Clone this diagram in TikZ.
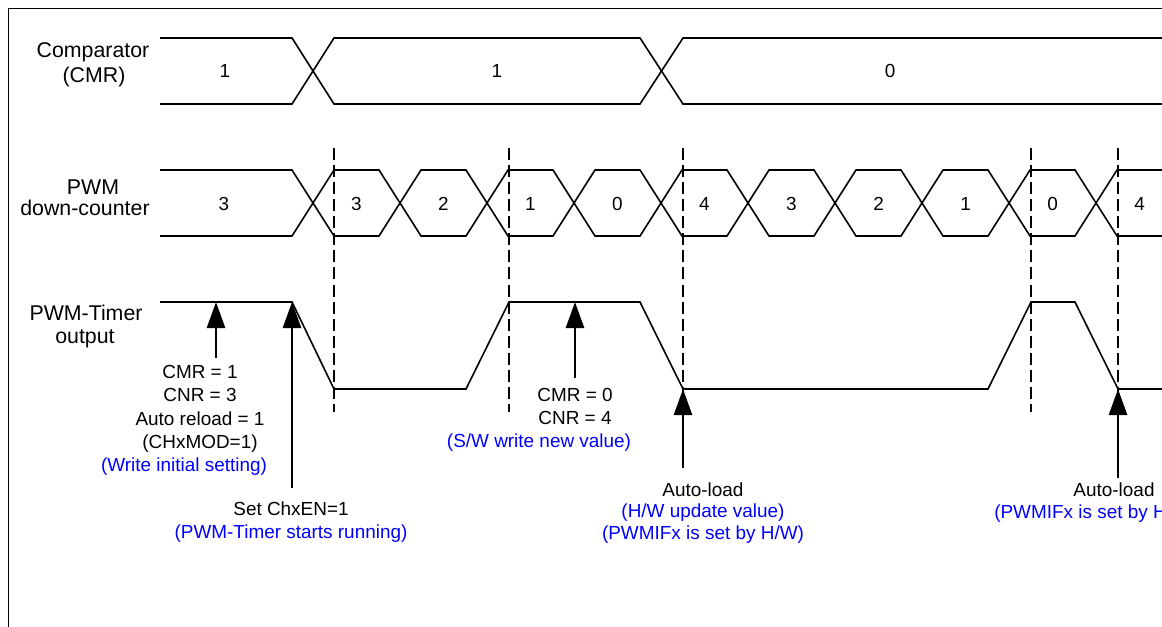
\documentclass[tikz,border=0pt]{standalone}
\usepackage{fontspec}
\setmainfont{Liberation Sans}
\usetikzlibrary{arrows.meta}
\definecolor{annblue}{RGB}{0,0,255}
\begin{document}
\begin{tikzpicture}[x=0.75pt,y=-0.75pt,
  sig/.style={line width=1.2pt, line join=miter},
  dashline/.style={line width=2pt, dash pattern=on 9pt off 3.8pt},
  ptr/.style={line width=2pt, -{Triangle[width=13.5pt,length=19.5pt]}},
  lab/.style={font=\fontsize{16}{19}\selectfont, inner sep=0pt, anchor=base},
  ann/.style={font=\fontsize{14.2}{17}\selectfont, inner sep=0pt, anchor=base},
  blu/.style={ann, text=annblue},
  val/.style={font=\fontsize{14.2}{17}\selectfont, inner sep=0pt, anchor=base}]
\useasboundingbox (0,0) rectangle (1162,627);
\clip (0,0) rectangle (1162,627);
% frame
\draw[line width=0.75pt] (8,640) -- (8,9) -- (1175,9);
% row labels
\node[lab] (l1a) at (93,58) {Comparator};
\node[lab] (l1b) at (94,83) {(CMR)};
\node[lab] (l2a) at (93,195) {PWM};
\node[lab] (l2b) at (85,216) {down-counter};
\node[lab] (l3a) at (86,320) {PWM-Timer};
\node[lab] (l3b) at (85,343) {output};
% comparator bus
\draw[sig] (160,38) -- (292,38) -- (334,104) -- (640,104) -- (683,38) -- (1175,38);
\draw[sig] (160,104) -- (292,104) -- (334,38) -- (640,38) -- (683,104) -- (1175,104);
\node[val] (cmr1) at (225,78) {1};
\node[val] (cmr2) at (497,78) {1};
\node[val] (cmr3) at (890,78) {0};
% counter bus
\draw[sig] (160,170) -- (292,170) -- (313,203) -- (292,236) -- (160,236);
\foreach \k in {0,...,8} {
  \pgfmathsetmacro\a{313+87*\k}
  \pgfmathsetmacro\b{400+87*\k}
  \draw[sig] (\a,203) -- (\a+21,170) -- (\b-21,170) -- (\b,203) -- (\b-21,236) -- (\a+21,236) -- cycle;
}
\draw[sig] (1175,170) -- (1117,170) -- (1096,203) -- (1117,236) -- (1175,236);
\node[val] (c0) at (224,210) {3};
\foreach \v [count=\k from 0] in {3,2,1,0,4,3,2,1,0,4} {
  \node[val] (cv\k) at (356.5+87*\k,210) {\v};
}
% dashed markers
\foreach \x [count=\i] in {334,509,683,1031,1118} {
  \draw[dashline] (\x,148) -- (\x,412);
}
% output waveform
\draw[sig] (160,302) -- (292,302) -- (334,389) -- (466,389) -- (509,302) -- (640,302) -- (683,389) -- (988,389) -- (1031,302) -- (1075,302) -- (1118,389) -- (1175,389);
% arrows
\coordinate (a1s) at (216,358); \coordinate (a1t) at (216,302);
\coordinate (a2s) at (292,488); \coordinate (a2t) at (292,302);
\coordinate (a3s) at (575,378); \coordinate (a3t) at (575,302);
\coordinate (a4s) at (683,468); \coordinate (a4t) at (683,389);
\coordinate (a5s) at (1118,478); \coordinate (a5t) at (1118,389);
\draw[ptr] (a1s) -- (a1t);
\draw[ptr] (a2s) -- (a2t);
\draw[ptr] (a3s) -- (a3t);
\draw[ptr] (a4s) -- (a4t);
\draw[ptr] (a5s) -- (a5t);
% annotations
\node[ann] (t1) at (200,378) {CMR = 1};
\node[ann] (t2) at (200,401) {CNR = 3};
\node[ann] (t3) at (200,425) {Auto reload = 1};
\node[ann] (t4) at (200,448) {(CHxMOD=1)};
\node[blu] (t5) at (184,471) {(Write initial setting)};
\node[ann] (s1) at (291,515) {Set ChxEN=1};
\node[blu] (s2) at (291,538) {(PWM-Timer starts running)};
\node[ann] (w1) at (575,401) {CMR = 0};
\node[ann] (w2) at (575,424) {CNR = 4};
\node[blu] (w3) at (539,447) {(S/W write new value)};
\node[ann] (h1) at (703,496) {Auto-load};
\node[blu] (h2) at (703,517) {(H/W update value)};
\node[blu] (h3) at (703,539) {(PWMIFx is set by H/W)};
\node[ann] (r1) at (1114,496) {Auto-load};
\node[blu, anchor=base west] (r2) at (994,518) {(PWMIFx is set by H/W)};
\end{tikzpicture}
\end{document}
